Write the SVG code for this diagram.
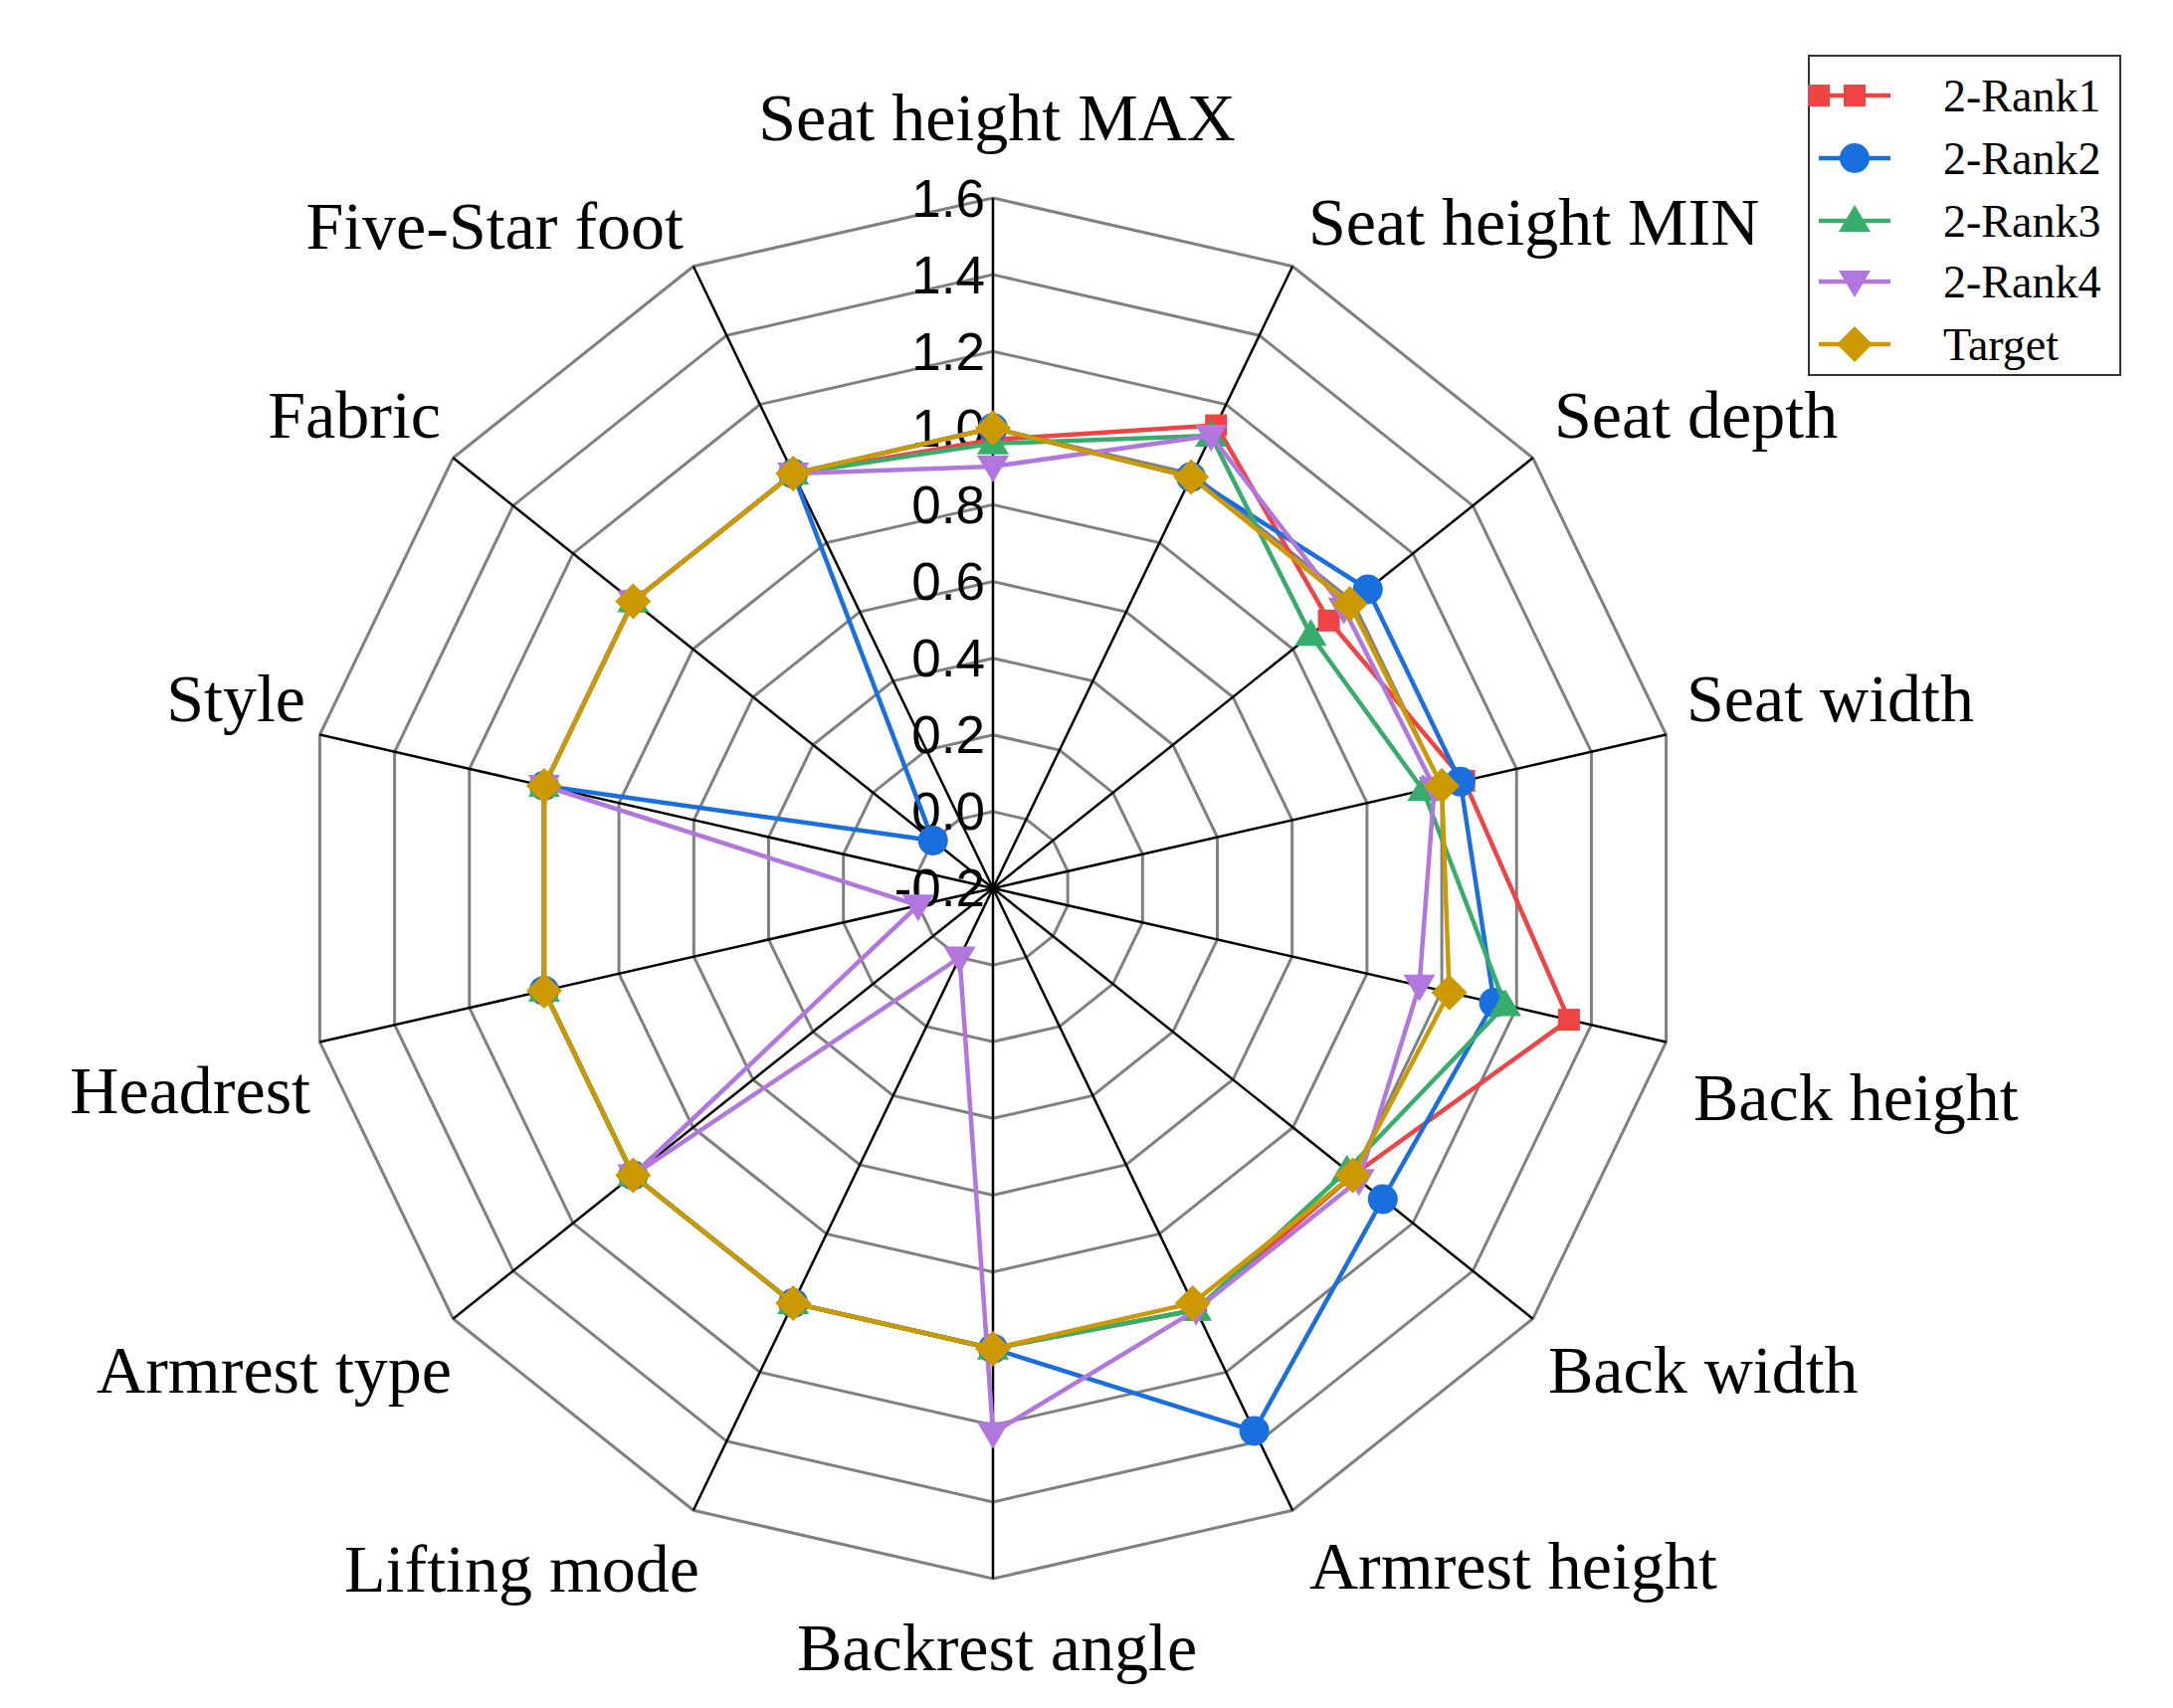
<svg xmlns="http://www.w3.org/2000/svg" xmlns:xlink="http://www.w3.org/1999/xlink" width="2184" height="1717" viewBox="0 0 2184 1717">
<style>
.ring{fill:none;stroke:#808080;stroke-width:3}
.axis{stroke:#000;stroke-width:2.5}
.tick{font-family:"Liberation Sans",Arial,sans-serif;font-size:53px;fill:#000;text-anchor:end}
.lab{font-family:"Liberation Serif","Times New Roman",serif;font-size:68px;fill:#000}
.leg{font-family:"Liberation Serif","Times New Roman",serif;font-size:46px;fill:#000}
.s{fill:none;stroke-width:4.5;stroke-linejoin:round}
</style>
<defs>
<polygon id="unit" points="0,-1 .4339,-.9010 .7818,-.6235 .9749,-.2225 .9749,.2225 .7818,.6235 .4339,.9010 0,1 -.4339,.9010 -.7818,.6235 -.9749,.2225 -.9749,-.2225 -.7818,-.6235 -.4339,-.9010" vector-effect="non-scaling-stroke"/>
<marker id="mR" markerUnits="userSpaceOnUse" markerWidth="40" markerHeight="40" refX="20" refY="20" overflow="visible"><rect x="9" y="9" width="22" height="22" fill="#F04343"/></marker>
<marker id="mB" markerUnits="userSpaceOnUse" markerWidth="40" markerHeight="40" refX="20" refY="20" overflow="visible"><circle cx="20" cy="20" r="15" fill="#1A6FDF"/></marker>
<marker id="mG" markerUnits="userSpaceOnUse" markerWidth="40" markerHeight="40" refX="20" refY="20" overflow="visible"><polygon points="20,4 36,31 4,31" fill="#37AD6B"/></marker>
<marker id="mP" markerUnits="userSpaceOnUse" markerWidth="40" markerHeight="40" refX="20" refY="20" overflow="visible"><polygon points="20,36 36,9 4,9" fill="#B177DE"/></marker>
<marker id="mT" markerUnits="userSpaceOnUse" markerWidth="40" markerHeight="40" refX="20" refY="20" overflow="visible"><polygon points="20,2 38,20 20,38 2,20" fill="#CC9900"/></marker>
</defs>
<rect width="2184" height="1717" fill="#fff"/>
<g id="grid">
<g class="ring">
<use xlink:href="#unit" transform="translate(998 893) scale(77.1)"/>
<use xlink:href="#unit" transform="translate(998 893) scale(154.2)"/>
<use xlink:href="#unit" transform="translate(998 893) scale(231.3)"/>
<use xlink:href="#unit" transform="translate(998 893) scale(308.4)"/>
<use xlink:href="#unit" transform="translate(998 893) scale(385.6)"/>
<use xlink:href="#unit" transform="translate(998 893) scale(462.7)"/>
<use xlink:href="#unit" transform="translate(998 893) scale(539.8)"/>
<use xlink:href="#unit" transform="translate(998 893) scale(616.9)"/>
<use xlink:href="#unit" transform="translate(998 893) scale(694)"/>
</g>
<g class="axis" transform="translate(998 893)">
<line x2="0" y2="-694"/>
<line x2="0" y2="-694" transform="rotate(25.714)"/>
<line x2="0" y2="-694" transform="rotate(51.429)"/>
<line x2="0" y2="-694" transform="rotate(77.143)"/>
<line x2="0" y2="-694" transform="rotate(102.857)"/>
<line x2="0" y2="-694" transform="rotate(128.571)"/>
<line x2="0" y2="-694" transform="rotate(154.286)"/>
<line x2="0" y2="-694" transform="rotate(180)"/>
<line x2="0" y2="-694" transform="rotate(205.714)"/>
<line x2="0" y2="-694" transform="rotate(231.429)"/>
<line x2="0" y2="-694" transform="rotate(257.143)"/>
<line x2="0" y2="-694" transform="rotate(282.857)"/>
<line x2="0" y2="-694" transform="rotate(308.571)"/>
<line x2="0" y2="-694" transform="rotate(334.286)"/>
</g>
<g class="tick">
<text x="990" y="218">1.6</text>
<text x="990" y="295">1.4</text>
<text x="990" y="372">1.2</text>
<text x="990" y="449">1.0</text>
<text x="990" y="526">0.8</text>
<text x="990" y="603">0.6</text>
<text x="990" y="680">0.4</text>
<text x="990" y="757">0.2</text>
<text x="990" y="834">0.0</text>
<text x="990" y="911">-0.2</text>
</g>
</g>
<g id="labels" class="lab">
<text x="1002" y="141" text-anchor="middle">Seat height MAX</text>
<text x="1315" y="246">Seat height MIN</text>
<text x="1562" y="440">Seat depth</text>
<text x="1695" y="725">Seat width</text>
<text x="1702" y="1126">Back height</text>
<text x="1556" y="1400">Back width</text>
<text x="1316" y="1597">Armrest height</text>
<text x="1002" y="1679" text-anchor="middle">Backrest angle</text>
<text x="703" y="1600" text-anchor="end">Lifting mode</text>
<text x="454" y="1400" text-anchor="end">Armrest type</text>
<text x="312" y="1119" text-anchor="end">Headrest</text>
<text x="307" y="725" text-anchor="end">Style</text>
<text x="443" y="440" text-anchor="end">Fabric</text>
<text x="687" y="250" text-anchor="end">Five-Star foot</text>
</g>
<g id="series">
<polygon id="rank1" class="s" stroke="#F04343" marker-start="url(#mR)" marker-mid="url(#mR)" points="998,441.9 1222.2,427.5 1335.6,623.8 1471.6,784.9 1576.9,1025.1 1359.7,1181.5 1202.1,1316.8 998,1355.7 797.2,1309.9 636.3,1181.5 546.9,995.9 546.9,790 636.3,604.5 797.2,476.1"/>
<polygon id="rank2" class="s" stroke="#1A6FDF" marker-start="url(#mB)" marker-mid="url(#mB)" points="998,430.3 1197.1,479.6 1374.7,592.5 1467.8,785.8 1501.6,1007.9 1389.8,1205.5 1260.6,1438.4 998,1355.7 797.2,1309.9 636.3,1181.5 546.9,995.9 546.9,790 937.7,844.9 797.2,476.1"/>
<polygon id="rank3" class="s" stroke="#37AD6B" marker-start="url(#mG)" marker-mid="url(#mG)" points="998,445.8 1217.2,437.9 1317.4,638.3 1430.3,794.3 1512.9,1010.5 1353.7,1176.7 1202.1,1316.8 998,1355.7 797.2,1309.9 636.3,1181.5 546.9,995.9 546.9,790 636.3,604.5 797.2,476.1"/>
<polygon id="rank4" class="s" stroke="#B177DE" marker-start="url(#mP)" marker-mid="url(#mP)" points="998,468.9 1217.2,437.9 1350.7,611.7 1441.6,791.8 1426.5,990.8 1365.8,1186.3 1202.1,1316.8 998,1440.5 964.5,962.5 636.3,1181.5 922.8,910.2 546.9,790 636.3,604.5 797.2,476.1"/>
<polygon id="target" class="s" stroke="#CC9900" marker-start="url(#mT)" marker-mid="url(#mT)" points="998,430.3 1197.1,479.6 1356.7,606.9 1449.1,790 1456.6,997.7 1359.7,1181.5 1198.8,1309.9 998,1355.7 797.2,1309.9 636.3,1181.5 546.9,995.9 546.9,790 636.3,604.5 797.2,476.1"/>
</g>
<g id="legend">
<rect x="1818" y="56" width="313" height="321" fill="#fff" stroke="#333" stroke-width="2"/>
<g class="s">
<line x1="1828" y1="96" x2="1900" y2="96" stroke="#F04343" marker-mid="url(#mR)" marker-start="url(#mR)"/>
<line x1="1828" y1="159" x2="1900" y2="159" stroke="#1A6FDF"/>
<line x1="1828" y1="222" x2="1900" y2="222" stroke="#37AD6B"/>
<line x1="1828" y1="283" x2="1900" y2="283" stroke="#B177DE"/>
<line x1="1828" y1="346" x2="1900" y2="346" stroke="#CC9900"/>
</g>
<rect x="1853" y="85" width="22" height="22" fill="#F04343"/>
<circle cx="1864" cy="159" r="15" fill="#1A6FDF"/>
<polygon points="1864,206 1880,233 1848,233" fill="#37AD6B"/>
<polygon points="1864,299 1880,272 1848,272" fill="#B177DE"/>
<polygon points="1864,328 1882,346 1864,364 1846,346" fill="#CC9900"/>
<g class="leg">
<text x="1953" y="112">2-Rank1</text>
<text x="1953" y="175">2-Rank2</text>
<text x="1953" y="238">2-Rank3</text>
<text x="1953" y="299">2-Rank4</text>
<text x="1953" y="362">Target</text>
</g>
</g>
</svg>
